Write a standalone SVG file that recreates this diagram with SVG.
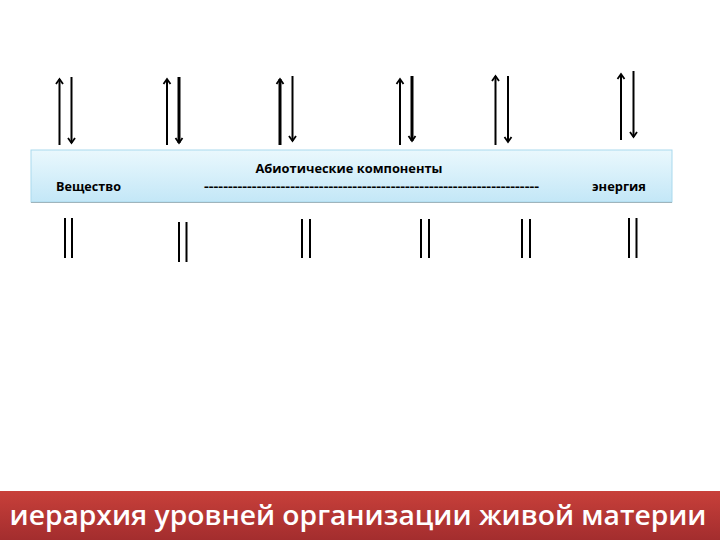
<svg xmlns="http://www.w3.org/2000/svg" width="720" height="540" viewBox="0 0 720 540">
  <defs>
    <linearGradient id="boxGrad" x1="0" y1="0" x2="0" y2="1">
      <stop offset="0" stop-color="#eaf8fd"/>
      <stop offset="1" stop-color="#c3e7f7"/>
    </linearGradient>
    <linearGradient id="barGrad" x1="0" y1="0" x2="0" y2="1">
      <stop offset="0" stop-color="#c8403a"/>
      <stop offset="1" stop-color="#a32d2e"/>
    </linearGradient>
    <marker id="chev" markerUnits="userSpaceOnUse" viewBox="-7 -6 12 12" markerWidth="12" markerHeight="12" refX="0" refY="0" orient="auto">
      <path d="M-5,-3.5 L0,0 L-5,3.5" fill="none" stroke="#000" stroke-width="1.8"/>
    </marker>
    <style>
      .ln { stroke: #000; stroke-width: 2; fill: none; }
      .thick { stroke-width: 3; }
      .arr { marker-end: url(#chev); }
      .lbl { font-family: "Open Sans", "Liberation Sans", sans-serif; font-weight: 700; font-size: 13px; fill: #000; }
      .title { font-family: "Open Sans", "Liberation Sans", sans-serif; font-weight: 600; font-size: 27px; fill: #fff; }
    </style>
  </defs>
  <rect width="720" height="540" fill="#fff"/>

  <g id="abiotic-box">
    <rect x="31" y="150" width="641" height="52" fill="url(#boxGrad)" stroke="#a9d9ed" stroke-width="1"/>
    <line x1="31" y1="202.5" x2="672" y2="202.5" stroke="#9fb4bc" stroke-width="1.2"/>
    <text class="lbl" x="255.5" y="173" textLength="187" lengthAdjust="spacingAndGlyphs">Абиотические компоненты</text>
    <text class="lbl" x="56" y="191" textLength="65" lengthAdjust="spacingAndGlyphs">Вещество</text>
    <text class="lbl" x="204" y="191" textLength="335" lengthAdjust="spacingAndGlyphs">----------------------------------------------------------------------</text>
    <text class="lbl" x="592" y="191" textLength="54" lengthAdjust="spacingAndGlyphs">энергия</text>
  </g>

  <g id="connectors">
    <line class="ln arr" x1="59.5" y1="145" x2="59.5" y2="79"/>
    <line class="ln arr" x1="71.5" y1="77" x2="71.5" y2="143"/>
    <line class="ln arr" x1="167" y1="145" x2="167" y2="79"/>
    <line class="ln thick arr" x1="179" y1="77" x2="179" y2="143"/>
    <line class="ln thick arr" x1="280" y1="145" x2="280" y2="79"/>
    <line class="ln arr" x1="292.5" y1="76" x2="292.5" y2="141"/>
    <line class="ln arr" x1="400" y1="145" x2="400" y2="79"/>
    <line class="ln thick arr" x1="412" y1="76" x2="412" y2="141"/>
    <line class="ln arr" x1="495.5" y1="145" x2="495.5" y2="76"/>
    <line class="ln arr" x1="508" y1="76" x2="508" y2="142"/>
    <line class="ln arr" x1="621" y1="140" x2="621" y2="74"/>
    <line class="ln arr" x1="633.5" y1="71" x2="633.5" y2="137"/>

    <line class="ln" x1="65" y1="218" x2="65" y2="258"/>
    <line class="ln" x1="72" y1="218" x2="72" y2="258"/>
    <line class="ln" x1="179" y1="222" x2="179" y2="262"/>
    <line class="ln" x1="186.5" y1="222" x2="186.5" y2="262"/>
    <line class="ln" x1="302" y1="219" x2="302" y2="258"/>
    <line class="ln" x1="310" y1="219" x2="310" y2="258"/>
    <line class="ln" x1="421" y1="219" x2="421" y2="258"/>
    <line class="ln" x1="429" y1="219" x2="429" y2="258"/>
    <line class="ln" x1="522" y1="219" x2="522" y2="258"/>
    <line class="ln" x1="530" y1="219" x2="530" y2="258"/>
    <line class="ln" x1="629" y1="218" x2="629" y2="258"/>
    <line class="ln" x1="636.5" y1="218" x2="636.5" y2="258"/>
  </g>

  <g id="title-bar">
    <rect x="0" y="491" width="720" height="49" fill="url(#barGrad)"/>
    <text class="title" x="9.5" y="525" textLength="697" lengthAdjust="spacingAndGlyphs">иерархия уровней организации живой материи</text>
  </g>
</svg>
